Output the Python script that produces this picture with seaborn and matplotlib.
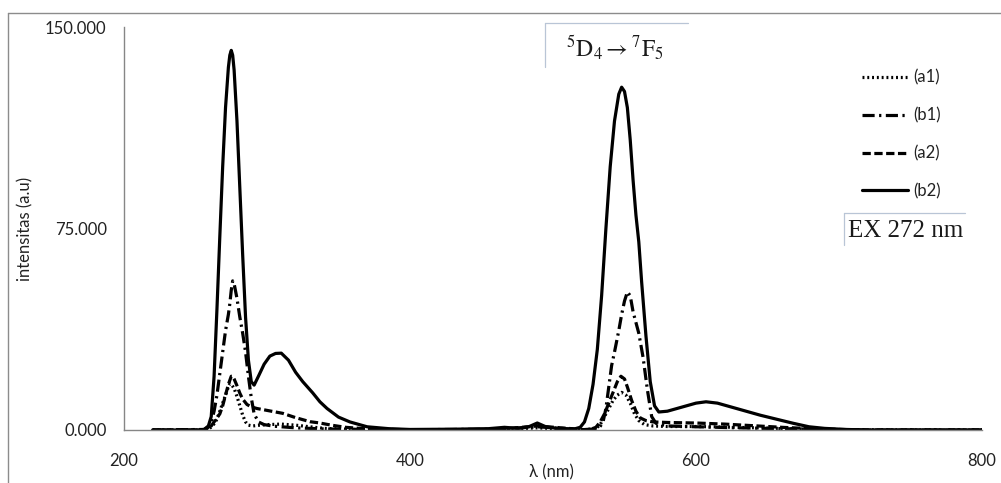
import matplotlib
matplotlib.use("Agg")
import matplotlib.pyplot as plt
from matplotlib.lines import Line2D
import pandas as pd
import seaborn as sns

# Emission spectra, excitation at 272 nm (wavelength in nm, intensity in a.u.)
wl_a1 = [220, 256, 259, 262, 265, 268, 271, 273, 274, 275, 277, 279, 281, 283, 285, 287, 290, 295, 300, 310,
         320, 330, 340, 360, 400, 460, 489, 520, 530, 533, 536, 539, 542, 545, 548, 551, 554, 557, 560, 564,
         570, 580, 600, 620, 650, 680, 720, 800]
a1 = [0, 0, 0.3, 1.5, 4, 8.5, 13, 16, 17.2, 17, 15.5, 12.5, 9, 5.5, 3, 1.8, 1.5, 1.8, 2, 2.2,
      1.8, 1.2, 0.6, 0.2, 0, 0.1, 0.8, 0, 0.5, 2, 5, 8, 11, 13, 14, 13, 10, 6, 3.5, 2,
      1.5, 1.3, 1.3, 1.1, 0.7, 0.3, 0, 0]

wl_b1 = [220, 256, 259, 261, 263, 265, 267, 269, 271, 273, 274, 275, 276, 277, 279, 281, 283, 285, 287, 289,
         291, 294, 298, 305, 320, 340, 370, 400, 460, 489, 520, 532, 535, 537, 539, 541, 543, 546, 548, 550,
         552, 554, 556, 560, 563, 566, 569, 572, 580, 600, 630, 680, 720, 800]
b1 = [0, 0.2, 1, 3, 7, 13, 21, 29, 37, 43, 47, 52, 55.5, 54.5, 49, 42, 36, 29, 20, 12,
      6, 3, 2, 1.4, 0.8, 0.4, 0.2, 0.1, 0.3, 1.2, 0.1, 0.5, 3, 8, 16, 24, 29, 37, 43, 48,
      51.4, 50, 44, 36, 27, 15, 5, 2.5, 1.5, 1.2, 0.8, 0.3, 0, 0]

wl_a2 = [220, 256, 259, 261, 263, 265, 267, 269, 271, 273, 275, 276, 277, 279, 281, 283, 286, 289, 293, 298,
         305, 311, 320, 330, 337, 345, 355, 370, 400, 460, 489, 525, 530, 533, 536, 539, 542, 545, 547.5, 550,
         552, 555, 558, 561, 565, 570, 580, 600, 620, 640, 660, 680, 700, 720, 800]
a2 = [0, 0, 0.5, 1.5, 3, 4.5, 6, 9, 13, 17, 20, 20, 19, 16.5, 13.7, 11.5, 9.5, 8.6, 8, 7.5,
      6.8, 6.2, 4.6, 3.1, 2.6, 1.8, 1, 0.4, 0.1, 0.2, 1.5, 0, 1, 3, 6, 10, 14, 18, 20, 19,
      16, 11, 7, 4.5, 3.5, 3, 2.8, 2.6, 2.2, 1.6, 1, 0.5, 0.2, 0, 0]

wl_b2 = [220, 250, 256, 259, 261, 263, 265, 267, 269, 271, 273, 274, 275, 276, 277, 279, 281, 283, 285, 287,
         289, 291, 294, 298, 302, 306, 310, 315, 320, 325, 332, 337, 342, 350, 358, 370, 385, 400, 430, 455,
         466, 476, 483, 489, 495, 505, 515, 519, 522, 525, 528, 531, 534, 537, 540, 543, 546, 548, 550, 552,
         554, 556, 558, 560, 562, 565, 568, 571, 574, 580, 590, 600, 607, 615, 625, 635, 645, 658, 668, 679,
         690, 705, 720, 800]
b2 = [0, 0, 0.2, 1.5, 5, 20, 45, 72, 98, 120, 135, 139.5, 141.3, 139.5, 134, 115, 90, 65, 42, 26,
      18, 16.7, 20, 24.5, 27.5, 28.5, 28.6, 26, 21.5, 18, 13.8, 10.5, 8, 4.8, 3, 1.2, 0.5, 0.2, 0.3, 0.5,
      1.0, 0.6, 1.2, 2.6, 1.2, 0.4, 0.4, 1, 3, 8, 17, 30, 50, 75, 98, 115, 125, 127.6, 126, 120,
      108, 93, 80, 70, 55, 35, 18, 9, 6.7, 7, 8.5, 10, 10.5, 10, 8.5, 7, 5.5, 3.8, 2.5, 1.2,
      0.6, 0.2, 0, 0]

series_names = ["(a1)", "(b1)", "(a2)", "(b2)"]
y_ticks = [0, 75, 150]
y_tick_labels = ["0.000", "75.000", "150.000"]
x_ticks = [200, 400, 600, 800]

frames = []
for name, x, y in zip(series_names, [wl_a1, wl_b1, wl_a2, wl_b2], [a1, b1, a2, b2]):
    frames.append(pd.DataFrame({"wl": x, "intensitas": y, "sampel": name}))
df = pd.concat(frames, ignore_index=True)

sns.set_theme(style="white")
plt.rcParams["font.family"] = ["Lato", "DejaVu Sans"]
plt.rcParams["mathtext.fontset"] = "stix"

LW = 2.3
FS = 12
TEXT_C = "#222222"
dash_map = {
    "(a1)": (0.6, 0.9),
    "(b1)": (3.8, 1.4, 0.7, 1.4),
    "(a2)": (2.6, 1.1),
    "(b2)": "",
}

fig = plt.figure(figsize=(10.01, 4.83), dpi=100)
ax = fig.add_axes([124 / 1001, 1 - 430 / 483, (982 - 124) / 1001, (430 - 27) / 483])

sns.lineplot(data=df, x="wl", y="intensitas", style="sampel", dashes=dash_map,
             color="black", linewidth=LW, estimator=None, sort=False,
             legend=False, ax=ax)

ax.set_xlim(200, 800)
ax.set_ylim(0, 150)
ax.set_xticks(x_ticks)
ax.set_xticklabels([str(t) for t in x_ticks])
ax.set_yticks(y_ticks)
ax.set_yticklabels(y_tick_labels)

grey = "#868686"
for side in ["top", "right"]:
    ax.spines[side].set_visible(False)
for side in ["left", "bottom"]:
    ax.spines[side].set_color(grey)
    ax.spines[side].set_linewidth(1.0)
ax.tick_params(axis="both", direction="out", length=4.5, width=1, color=grey,
               labelsize=FS, labelcolor=TEXT_C)
ax.tick_params(axis="x", pad=12)
ax.tick_params(axis="y", pad=8)
ax.set_facecolor("none")

ax.set_xlabel("λ (nm)", fontsize=FS, color=TEXT_C)
ax.set_ylabel("intensitas (a.u)", fontsize=FS, color=TEXT_C)
ax.xaxis.set_label_coords((551 - 124) / 858, -0.085)
ax.yaxis.set_label_coords(-0.106, 0.5)

# legend
handles = [Line2D([], [], color="black", linewidth=LW, dashes=dash_map[n]) if dash_map[n]
           else Line2D([], [], color="black", linewidth=LW) for n in series_names]
fig.legend(handles, series_names, loc="center left",
           bbox_to_anchor=(862 / 1001, 1 - 134.5 / 483), frameon=False,
           fontsize=FS, handlelength=2.75, handletextpad=0.3, labelspacing=1.3,
           borderpad=0, borderaxespad=0, labelcolor=TEXT_C)

# chart-area frame
frame_c = "#8c8c8c"
fig.add_artist(Line2D([8 / 1001, 1.0], [1 - 13 / 483] * 2, transform=fig.transFigure,
                      color=frame_c, linewidth=1))
fig.add_artist(Line2D([8 / 1001] * 2, [0, 1 - 13 / 483], transform=fig.transFigure,
                      color=frame_c, linewidth=1))

# text boxes
box_c = "#b9c5d6"
fig.add_artist(Line2D([545 / 1001, 688 / 1001], [1 - 23 / 483] * 2, transform=fig.transFigure,
                      color=box_c, linewidth=0.9))
fig.add_artist(Line2D([545 / 1001] * 2, [1 - 23 / 483, 1 - 67 / 483], transform=fig.transFigure,
                      color=box_c, linewidth=0.9))
fig.add_artist(Line2D([844 / 1001, 965 / 1001], [1 - 213 / 483] * 2, transform=fig.transFigure,
                      color=box_c, linewidth=0.9))
fig.add_artist(Line2D([844 / 1001] * 2, [1 - 213 / 483, 1 - 245 / 483], transform=fig.transFigure,
                      color=box_c, linewidth=0.9))

fig.text(566 / 1001, 1 - 57 / 483, r"$^{5}\mathrm{D}_{4} \rightarrow {}^{7}\mathrm{F}_{5}$",
         fontsize=17, color="#1a1a1a", ha="left", va="baseline")
fig.text(848 / 1001, 1 - 237 / 483, "EX 272 nm", family="Liberation Serif",
         fontsize=18, color="#1a1a1a", ha="left", va="baseline")

fig.savefig("out.png", dpi=100)
